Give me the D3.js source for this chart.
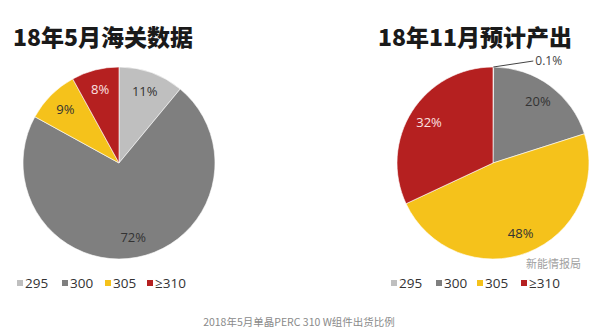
<!DOCTYPE html>
<html><head><meta charset="utf-8">
<script src="https://cdn.jsdelivr.net/npm/d3@7"></script>
<style>body{margin:0;background:#fff}svg{display:block}</style>
</head><body>
<script>
const categories = ["295", "300", "305", "≥310"];
const colors = ["#bfbfbf", "#7f7f7f", "#f5c21b", "#b52020"];
const mayValues = [11, 72, 9, 8];
const mayLabels = ["11%", "72%", "9%", "8%"];
const novValues = [0.1, 20, 48, 32];
const novLabels = ["0.1%", "20%", "48%", "32%"];
const titles = ["18年5月海关数据", "18年11月预计产出"];
const caption = "2018年5月单晶PERC 310 W组件出货比例";
const watermark = "新能情报局";

const W = 600, H = 336;
const svg = d3.select("body").append("svg").attr("width", W).attr("height", H);
const labelFont = "'Open Sans','Noto Sans CJK SC',sans-serif";
const labelColors = ["#333", "#333", "#333", "#fbe0e0"];

function drawPie(cx, cy, R, values, labels, title, titleX, legendX, legendSpacing, legendY, small) {
  const pie = d3.pie().sort(null).value(d => d);
  const arcs = pie(values);
  const arc = d3.arc().innerRadius(0).outerRadius(R);
  const labArc = d3.arc().innerRadius(R * 0.79).outerRadius(R * 0.79);
  const g = svg.append("g").attr("transform", `translate(${cx},${cy})`);
  g.selectAll("path").data(arcs).join("path")
    .attr("d", arc).attr("fill", (d, i) => colors[i])
    .attr("stroke", "#fff").attr("stroke-width", 0.6);
  arcs.forEach((a, i) => {
    if (small === i) return;
    const [x, y] = labArc.centroid(a);
    g.append("text").attr("x", x).attr("y", y).attr("dy", "0.35em")
      .attr("text-anchor", "middle").attr("font-family", labelFont)
      .attr("font-size", 13).attr("fill", labelColors[i]).text(labels[i]);
  });
  if (small !== undefined) {
    const a = arcs[small];
    const ang = (a.startAngle + a.endAngle) / 2;
    const x0 = Math.sin(ang) * R, y0 = -Math.cos(ang) * R;
    g.append("line").attr("x1", x0).attr("y1", y0).attr("x2", x0 + 40).attr("y2", y0 - 6)
      .attr("stroke", "#444").attr("stroke-width", 1);
    g.append("text").attr("x", x0 + 42).attr("y", y0 - 6).attr("dy", "0.35em")
      .attr("font-family", labelFont).attr("font-size", 12).attr("fill", "#444").text(labels[small]);
  }
  svg.append("text").attr("x", titleX).attr("y", 46)
    .attr("font-family", "'Noto Sans CJK SC',sans-serif").attr("font-weight", 900)
    .attr("font-size", 23).attr("fill", "#1a1a1a").text(title);
  const lg = svg.append("g").attr("transform", `translate(${legendX},${legendY})`);
  categories.forEach((c, i) => {
    const gx = legendSpacing[i];
    lg.append("rect").attr("x", gx).attr("y", -3).attr("width", 6).attr("height", 6).attr("fill", colors[i]);
    lg.append("text").attr("x", gx + 8).attr("y", 0).attr("dy", "0.35em")
      .attr("font-family", labelFont).attr("font-size", 13.5).attr("fill", "#333").text(c);
  });
}

drawPie(119, 163, 96, mayValues, mayLabels, titles[0], 13, 17, [0, 45, 88, 130], 283);
drawPie(493, 163, 96, novValues, novLabels, titles[1], 378, 391, [0, 45, 86, 130], 283, 0);

svg.append("text").attr("x", 526).attr("y", 264).attr("dy", "0.35em")
  .attr("font-family", "'Noto Sans CJK SC',sans-serif").attr("font-size", 11)
  .attr("fill", "#777").attr("opacity", 0.7).text(watermark);

svg.append("text").attr("x", 299).attr("y", 326).attr("text-anchor", "middle")
  .attr("font-family", "'Noto Sans CJK SC',sans-serif").attr("font-size", 10.5)
  .attr("fill", "#8a8a8a").text(caption);
</script>
</body></html>
